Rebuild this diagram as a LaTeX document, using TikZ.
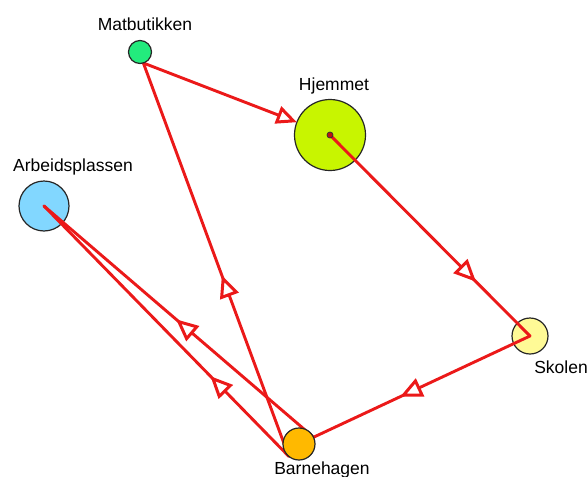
\documentclass[tikz,border=0pt]{standalone}
\usepackage{fontspec}
\setmainfont{Liberation Sans}
\usetikzlibrary{arrows.meta,decorations.markings}
\pgfdeclarelayer{front}
\pgfsetlayers{main,front}
\definecolor{matgreen}{RGB}{35,235,125}
\definecolor{hjemgreen}{RGB}{200,245,0}
\definecolor{arbblue}{RGB}{130,215,255}
\definecolor{skoyellow}{RGB}{255,250,150}
\definecolor{bhorange}{RGB}{255,185,0}
\definecolor{linered}{RGB}{235,25,25}
\tikzset{
  place/.style={circle, draw=black!85, line width=1.2pt, inner sep=0pt, outer sep=0pt, minimum size=#1},
  placelabel/.style={anchor=base, inner sep=0pt, font=\fontsize{17.5}{20}\selectfont},
  route/.style={draw=linered, line width=2.9pt, line cap=round, line join=round},
  midarrow/.style={postaction={decorate, decoration={markings,
      mark=at position #1 with {\arrow{Triangle[open, fill=white, length=17pt, width=15pt, line width=3pt, scale=1.3]}}}}},
  endarrow/.style={-{Triangle[open, fill=white, length=17pt, width=15pt, line width=3pt, scale=1.2]}},
}
\begin{document}
\begin{tikzpicture}[x=1pt, y=-1pt]
\useasboundingbox (0,0) rectangle (587,477);

% places drawn beneath the routes
\node[place=71pt, fill=hjemgreen] (hjem) at (330,135) {};
\node[place=50pt, fill=arbblue] (arb) at (44,206) {};
\node[place=36pt, fill=skoyellow] (sko) at (530,336) {};

% places drawn above the routes
\begin{pgfonlayer}{front}
\node[place=32pt, fill=bhorange] (bh) at (299,444) {};
\node[place=23pt, fill=matgreen] (mat) at (140,52) {};
\node[circle, draw=black!80, line width=0.8pt, fill=linered!80!black, inner sep=0pt, minimum size=6pt] (hdot) at (hjem.center) {};
\end{pgfonlayer}

% labels
\node[placelabel] (lmat) at (145,30) {Matbutikken};
\node[placelabel] (lhjem) at (334,90) {Hjemmet};
\node[placelabel] (larb) at (73,171) {Arbeidsplassen};
\node[placelabel] (lsko) at (561,373) {Skolen};
\node[placelabel] (lbh) at (322,474) {Barnehagen};

% routes
\draw[route, endarrow] (mat.-73) -- (hjem);
\draw[route, midarrow=0.73] (hjem.center) -- (sko.center);
\draw[route, midarrow=0.6] (sko.center) -- (bh.25);
\draw[route, midarrow=0.51] (bh.25) -- (arb.center);
\draw[route, midarrow=0.32] (bh.-130) -- (arb.center);
\draw[route, midarrow=0.46] (bh.-130) -- (mat.-73);
\end{tikzpicture}
\end{document}
